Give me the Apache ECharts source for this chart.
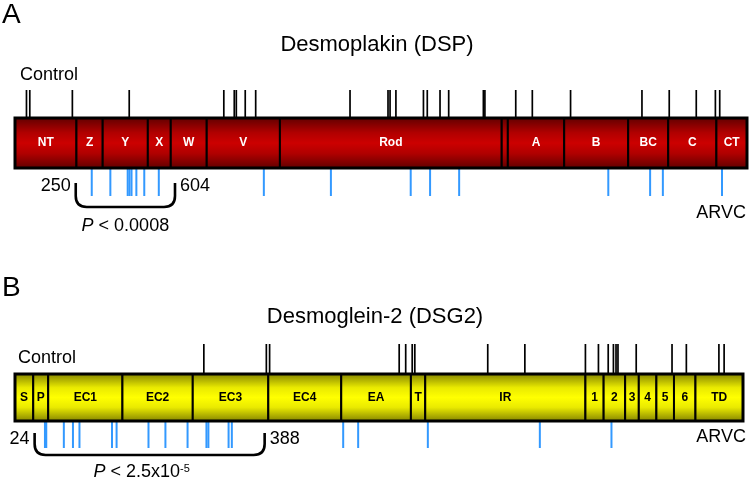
<!DOCTYPE html>
<html><head><meta charset="utf-8">
<script src="https://cdn.jsdelivr.net/npm/echarts@6.0.0/dist/echarts.min.js"></script>
<style>html,body{margin:0;padding:0;background:#fff}#c{width:750px;height:485px}</style>
</head><body><div id="c"></div><script>
// ---------- Desmoplakin (DSP) ----------
const dspTitle = 'Desmoplakin (DSP)';
const dspLength = 2871;
const dspDomains = ['NT','Z','Y','X','W','V','Rod','','A','B','BC','C','CT'];
const dspStarts  = [0,241,344,521,611,752,1039,1909,1933,2154,2405,2562,2751];
const dspEnds    = [241,344,521,611,752,1039,1909,1933,2154,2405,2562,2751,2871];
const dspControl = [45,58,225,448,819,860,868,903,944,1314,1463,1471,1494,1602,1617,1667,1701,1837,1843,1964,2029,2179,2459,2566,2672,2747,2764];
const dspArvc    = [301,374,442,449,457,476,507,564,976,1239,1552,1628,1742,2327,2491,2541,2773];
const dspCluster = [250, 604];
const dspPText   = '{i|P} < 0.0008';

// ---------- Desmoglein-2 (DSG2) ----------
const dsgTitle = 'Desmoglein-2 (DSG2)';
const dsgLength = 1118;
const dsgDomains = ['S','P','EC1','EC2','EC3','EC4','EA','T','IR','1','2','3','4','5','6','TD'];
const dsgStarts  = [0,28,51,165,273,389,501,608,630,876,904,937,958,985,1012,1045];
const dsgEnds    = [28,51,165,273,389,501,608,630,876,904,937,958,985,1012,1045,1118];
const dsgControl = [290,386,391,590,600,610,614,726,783,876,896,911,919,923,926,954,1009,1031,1081,1089];
const dsgArvc    = [46,48,75,89,99,149,156,205,231,265,294,297,328,333,504,527,634,806,916];
const dsgCluster = [24, 388];
const dsgPText   = '{i|P} < 2.5x10{s|-5}';

const FONT = '"Liberation Sans", Arial, Helvetica, sans-serif';

const redStops = [
  {offset:0, color:'#5e0000'},{offset:0.3, color:'#b00000'},
  {offset:0.5, color:'#cc0000'},{offset:0.7, color:'#b00000'},{offset:1, color:'#5e0000'}];
const yellowStops = [
  {offset:0, color:'#808000'},{offset:0.3, color:'#eaea00'},
  {offset:0.5, color:'#ffff00'},{offset:0.7, color:'#eaea00'},{offset:1, color:'#808000'}];

const panels = [
  {len:dspLength, names:dspDomains, starts:dspStarts, ends:dspEnds, control:dspControl, arvc:dspArvc,
   cluster:dspCluster, ptext:dspPText,
   grid:{left:15, width:732, top:90, height:106}, yMin:-2.12, yMax:2.12,
   stops:redStops, labelColor:'#ffffff',
   br:{padL:-3, padR:6, top:15, bottom:39, r:11, numY:18, pY:58, pDx:0}},
  {len:dsgLength, names:dsgDomains, starts:dsgStarts, ends:dsgEnds, control:dsgControl, arvc:dsgArvc,
   cluster:dsgCluster, ptext:dsgPText,
   grid:{left:15, width:728, top:344, height:104}, yMin:-2.149, yMax:2.277,
   stops:yellowStops, labelColor:'#000000',
   br:{padL:4, padR:-3, top:12, bottom:34, r:11, numY:18, pY:51, pDx:-8}}
];

const grids = [], xAxes = [], yAxes = [], series = [];
panels.forEach((p, gi) => {
  grids.push(Object.assign({containLabel:false}, p.grid));
  xAxes.push({type:'value', gridIndex:gi, min:0, max:p.len, show:false});
  yAxes.push({type:'value', gridIndex:gi, min:p.yMin, max:p.yMax, show:false});
  // domains
  series.push({
    type:'custom', xAxisIndex:gi, yAxisIndex:gi, silent:true, clip:false, z:2,
    data:p.starts.map((s,i)=>[s, p.ends[i], 0]), encode:{x:[0,1], y:2},
    renderItem(params, api){
      const a = api.coord([api.value(0), 1]);
      const b = api.coord([api.value(1), -1]);
      return {type:'group', children:[
        {type:'rect', shape:{x:a[0], y:a[1], width:b[0]-a[0], height:b[1]-a[1]},
         style:{fill:new echarts.graphic.LinearGradient(0,0,0,1,p.stops), stroke:'#000', lineWidth:2}},
        {type:'text', x:(a[0]+b[0])/2, y:(a[1]+b[1])/2,
         style:{text:p.names[params.dataIndex], fill:p.labelColor, font:'bold 12px '+FONT,
                textAlign:'center', textVerticalAlign:'middle'}}
      ]};
    }
  });
  // outer border
  series.push({
    type:'custom', xAxisIndex:gi, yAxisIndex:gi, silent:true, clip:false, z:3,
    data:[[p.starts[0], p.ends[p.ends.length-1], 0]], encode:{x:[0,1], y:2},
    renderItem(params, api){
      const a = api.coord([api.value(0), 1]);
      const b = api.coord([api.value(1), -1]);
      return {type:'rect', shape:{x:a[0], y:a[1], width:b[0]-a[0], height:b[1]-a[1]},
              style:{fill:'none', stroke:'#000', lineWidth:3}};
    }
  });
  // control variants (above)
  series.push({
    type:'custom', xAxisIndex:gi, yAxisIndex:gi, silent:true, clip:false, z:1,
    data:p.control.map(v=>[v, 0]), encode:{x:0, y:1},
    renderItem(params, api){
      const a = api.coord([api.value(0), 1]);
      const b = api.coord([api.value(0), p.yMax]);
      return {type:'line', shape:{x1:a[0], y1:a[1], x2:b[0], y2:b[1]}, style:{stroke:'#000', lineWidth:1.7}};
    }
  });
  // ARVC variants (below)
  series.push({
    type:'custom', xAxisIndex:gi, yAxisIndex:gi, silent:true, clip:false, z:1,
    data:p.arvc.map(v=>[v, 0]), encode:{x:0, y:1},
    renderItem(params, api){
      const a = api.coord([api.value(0), -1]);
      const b = api.coord([api.value(0), p.yMin]);
      return {type:'line', shape:{x1:a[0], y1:a[1], x2:b[0], y2:b[1]}, style:{stroke:'#3399ff', lineWidth:2}};
    }
  });
  // cluster bracket
  series.push({
    type:'custom', xAxisIndex:gi, yAxisIndex:gi, silent:true, clip:false, z:4,
    data:[[p.cluster[0], p.cluster[1], 0]], encode:{x:[0,1], y:2},
    renderItem(params, api){
      const s = api.value(0), e = api.value(1);
      const base = api.coord([s, -1])[1];
      const x0 = api.coord([s, -1])[0] + p.br.padL;
      const x1 = api.coord([e, -1])[0] + p.br.padR;
      const yT = base + p.br.top, yB = base + p.br.bottom, r = p.br.r;
      const d = `M ${x0} ${yT} L ${x0} ${yB-r} Q ${x0} ${yB} ${x0+r} ${yB} L ${x1-r} ${yB} Q ${x1} ${yB} ${x1} ${yB-r} L ${x1} ${yT}`;
      return {type:'group', children:[
        {type:'path', shape:{pathData:d}, style:{fill:'none', stroke:'#000', lineWidth:2.6}},
        {type:'text', x:x0-5, y:base+p.br.numY,
         style:{text:String(s), fill:'#000', font:'18px '+FONT, textAlign:'right', textVerticalAlign:'middle'}},
        {type:'text', x:x1+5, y:base+p.br.numY,
         style:{text:String(e), fill:'#000', font:'18px '+FONT, textAlign:'left', textVerticalAlign:'middle'}},
        {type:'text', x:(x0+x1)/2+p.br.pDx, y:base+p.br.pY,
         style:{text:p.ptext, fill:'#000', fontSize:18, fontFamily:FONT, textAlign:'center', textVerticalAlign:'middle',
                rich:{i:{fontStyle:'italic', fontSize:18, fontFamily:FONT},
                      s:{fontSize:11, fontFamily:FONT, verticalAlign:'top'}}}}
      ]};
    }
  });
});

function txt(x, y, text, size, align){
  return {type:'text', x:x, y:y, silent:true,
          style:{text:text, fill:'#000', font:size+'px '+FONT, textAlign:align||'left', textVerticalAlign:'middle'}};
}

const chart = echarts.init(document.getElementById('c'), null, {renderer:'canvas'});
chart.setOption({
  backgroundColor:'#ffffff',
  animation:false,
  grid:grids, xAxis:xAxes, yAxis:yAxes, series:series,
  graphic:[
    txt(2, 15, 'A', 28),
    txt(377, 45, dspTitle, 22, 'center'),
    txt(20, 75, 'Control', 18),
    txt(746, 213, 'ARVC', 18, 'right'),
    txt(2, 288, 'B', 28),
    txt(375, 317, dsgTitle, 22, 'center'),
    txt(18, 358, 'Control', 18),
    txt(746, 437, 'ARVC', 18, 'right')
  ]
});
</script></body></html>
